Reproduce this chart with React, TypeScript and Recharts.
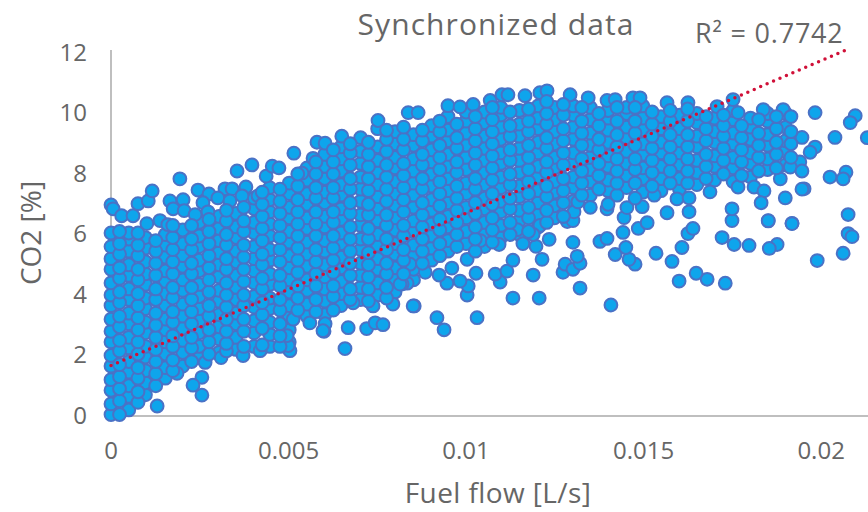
import { ScatterChart, Scatter, XAxis, YAxis } from "recharts";

// fuel flow in mL/s with the CO2 [%] values seen at that flow
type Col = [number, number[]];

const lowFlowA: Col[] = [
  [0,[0.05,0.4,0.85,1.2,1.65,2,2.45,2.8,3.2,3.65,4,4.4,4.85,5.2,5.6,6.05]],
  [0.5,[0.2,0.65,1,1.45,1.8,2.25,2.6,3.05,3.4,3.85,4.2,4.65,5,5.45,5.85,6.05]],
  [0.97,[0.7,1.1,1.5,1.95,2.3,2.75,3.1,3.55,3.9,4.35,4.7,5.1,5.55,5.9]],
  [1.53,[1.25,1.6,2.05,2.45,2.85,3.2,3.65,4.05,4.45,4.8,5.25,5.65,6]],
  [2.02,[1.65,2.1,2.5,2.9,3.3,3.7,4.15,4.5,4.95,5.3,5.7,6.15]],
  [2.48,[1.95,2.3,2.75,3.15,3.55,3.95,4.35,4.8,5.15,5.6,5.95,6.4]],
  [3.04,[2.1,2.55,2.95,3.35,3.8,4.15,4.6,5,5.4,5.8,6.2,6.6]],
  [3.52,[2.2,2.6,3.05,3.4,3.85,4.25,4.65,5.1,5.45,5.9,6.25,6.7]],
  [4.03,[2.3,2.75,3.15,3.6,3.95,4.4,4.8,5.2,5.6,6.05,6.4,6.85,7.2]],
  [4.47,[2.3,2.7,3.1,3.55,3.9,4.35,4.7,5.15,5.5,5.95,6.35,6.75,7.15,7.55]],
  [5.02,[2.45,2.85,3.3,3.65,4.1,4.5,4.9,5.3,5.75,6.1,6.55,6.9,7.35,7.7]],
  [5.52,[3.3,3.7,4.15,4.5,4.95,5.35,5.75,6.2,6.55,7,7.35,7.8,8.2]],
];

const lowFlowB: Col[] = [
  [0.24,[0.05,0.5,0.9,1.3,1.7,2.15,2.5,2.95,3.3,3.75,4.1,4.55,4.9,5.35,5.7,6.1]],
  [0.76,[0.45,0.8,1.25,1.6,2.05,2.45,2.85,3.25,3.65,4.05,4.5,4.85,5.3,5.65,6.05]],
  [1.26,[1,1.4,1.8,2.2,2.6,3,3.4,3.85,4.2,4.65,5.05,5.45,5.8]],
  [1.74,[1.5,1.85,2.3,2.65,3.1,3.45,3.9,4.25,4.7,5.1,5.5,5.9,6.3]],
  [2.27,[1.8,2.25,2.6,3.05,3.45,3.85,4.25,4.7,5.05,5.5,5.85,6.3]],
  [2.76,[2.05,2.45,2.85,3.3,3.65,4.1,4.5,4.9,5.3,5.7,6.1,6.5]],
  [3.25,[2.15,2.4,2.8,3.2,3.6,4,4.4,4.85,5.2,5.65,6,6.45,6.8]],
  [3.74,[2.3,2.8,3.2,3.65,4,4.45,4.85,5.25,5.65,6.1,6.45,6.9]],
  [4.26,[2.35,2.9,3.35,3.75,4.2,4.55,5,5.35,5.8,6.2,6.6,7,7.4]],
  [4.76,[2.3,2.65,3.05,3.5,3.85,4.3,4.65,5.1,5.5,5.9,6.3,6.7,7.1,7.5]],
  [5.26,[3.5,3.9,4.3,4.75,5.15,5.55,5.95,6.35,6.75,7.15,7.6,8]],
  [5.77,[3.45,3.85,4.3,4.7,5.1,5.5,5.95,6.35,6.75,7.2,7.55,8,8.4]],
];

const midFlowA: Col[] = [
  [6.02,[3.35,3.8,4.2,4.6,5,5.45,5.8,6.25,6.6,7.05,7.4,7.85,8.25,8.65]],
  [6.48,[3.65,4.05,4.45,4.9,5.25,5.7,6.05,6.5,6.85,7.3,7.65,8.1,8.5,8.9]],
  [7.03,[3.85,4.25,4.65,5.05,5.5,5.85,6.3,6.65,7.1,7.5,7.9,8.35,8.75,9.2]],
  [7.51,[4,4.4,4.85,5.2,5.65,6,6.45,6.85,7.25,7.65,8.05,8.45,8.9,9.5]],
  [8,[4.1,4.55,4.9,5.35,5.7,6.15,6.55,6.95,7.35,7.75,8.2,8.55,9,9.4]],
  [8.52,[4.5,4.85,5.3,5.65,6.1,6.45,6.9,7.3,7.7,8.1,8.5,8.95,9.3]],
  [9.03,[5.15,5.55,5.95,6.35,6.8,7.15,7.6,8,8.4,8.8,9.25,9.6]],
  [9.49,[5.45,5.8,6.25,6.6,7.05,7.45,7.85,8.25,8.65,9.1,9.45,9.9]],
  [10,[5.7,6.1,6.55,6.9,7.35,7.7,8.15,8.55,8.95,9.35,9.75,10.05]],
  [10.52,[5.6,6,6.4,6.85,7.2,7.65,8.05,8.45,8.85,9.25,9.7,10.05]],
  [10.98,[5.9,6.3,6.75,7.1,7.55,7.9,8.35,8.7,9.15,9.55,9.95,10.2]],
  [11.5,[6,6.45,6.8,7.25,7.6,8.05,8.45,8.85,9.25,9.65,10.1]],
  [12.03,[6.25,6.65,7.05,7.45,7.9,8.25,8.7,9.05,9.5,9.85,10.25]],
  [12.49,[6.55,6.95,7.4,7.75,8.2,8.55,9,9.4,9.8,10.2]],
];

const midFlowB: Col[] = [
  [6.26,[3.5,3.95,4.3,4.75,5.15,5.55,5.95,6.4,6.75,7.2,7.55,8,8.4,8.8]],
  [6.74,[3.85,4.2,4.65,5.05,5.45,5.85,6.25,6.7,7.05,7.5,7.85,8.3,8.7,9]],
  [7.25,[3.8,4.2,4.6,5,5.4,5.85,6.2,6.65,7,7.45,7.85,8.25,8.65,9.05]],
  [7.76,[3.9,4.25,4.7,5.05,5.5,5.85,6.3,6.65,7.1,7.5,7.9,8.3,8.75,9.15,9.45]],
  [8.24,[4.7,5.15,5.5,5.95,6.3,6.75,7.15,7.55,7.95,8.35,8.8,9.15,9.55]],
  [8.77,[5.05,5.45,5.85,6.25,6.65,7.05,7.5,7.85,8.3,8.65,9.1,9.45]],
  [9.26,[5.3,5.7,6.15,6.5,6.95,7.35,7.75,8.15,8.55,8.95,9.4,9.75]],
  [9.74,[5.6,6,6.4,6.8,7.2,7.6,8.05,8.4,8.85,9.2,9.65]],
  [10.26,[5.45,5.85,6.25,6.7,7.05,7.5,7.85,8.3,8.7,9.1,9.5,9.9]],
  [10.74,[5.75,6.15,6.55,7,7.35,7.8,8.2,8.6,9,9.4,9.8,10.2]],
  [11.24,[6,6.4,6.85,7.2,7.65,8,8.45,8.8,9.25,9.6,10.05]],
  [11.76,[6.1,6.55,6.9,7.35,7.75,8.15,8.55,8.95,9.4,9.75,10.15]],
  [12.27,[6.4,6.8,7.25,7.6,8.05,8.4,8.85,9.2,9.65,10,10.4]],
  [12.74,[6.6,7.05,7.45,7.85,8.3,8.7,9.1,9.5,9.95,10.3]],
];

const highFlowA: Col[] = [
  [13.02,[7.1,7.55,7.9,8.35,8.7,9.15,9.55,9.95,10.25]],
  [13.5,[7.3,7.75,8.15,8.55,8.95,9.35,9.8,10.2]],
  [14,[7.45,7.8,8.25,8.6,9.05,9.45,9.85,10.1]],
  [14.52,[7.55,7.95,8.35,8.75,9.2,9.55,10,10.2]],
  [14.98,[7.4,7.85,8.2,8.65,9,9.45,9.85,10.25]],
  [15.49,[7.45,7.85,8.25,8.7,9.05,9.5,9.9]],
  [16.01,[7.5,7.85,8.3,8.7,9.1,9.5,9.95]],
  [16.5,[7.65,8.05,8.45,8.9,9.25,9.7,10]],
  [17,[7.8,8.25,8.6,9.05,9.4,9.85]],
  [17.52,[7.75,8.2,8.55,9,9.35,9.8,10.1]],
  [18.01,[7.9,8.35,8.7,9.15,9.55,9.85]],
  [18.49,[8.15,8.5,8.95,9.3,9.75,10]],
  [19,[8.3,8.75,9.1,9.55,10]],
];

const highFlowB: Col[] = [
  [13.26,[7.3,7.7,8.1,8.5,8.95,9.35,9.75,10.2]],
  [13.74,[7.5,7.95,8.35,8.8,9.15,9.6,10]],
  [14.25,[7.3,7.7,8.1,8.5,8.9,9.3,9.75,10.2]],
  [14.76,[7.7,8.15,8.5,8.95,9.35,9.75,10.2]],
  [15.24,[7.6,8.05,8.45,8.85,9.25,9.65,10.05]],
  [15.75,[7.7,8.1,8.5,8.9,9.3,9.75,10.1]],
  [16.24,[7.7,8.1,8.5,8.9,9.3,9.75,10.15]],
  [16.76,[7.85,8.25,8.65,9.1,9.5,9.9]],
  [17.25,[8,8.45,8.85,9.25,9.6,9.95]],
  [17.76,[7.95,8.4,8.8,9.2,9.6]],
  [18.24,[8.1,8.55,8.95,9.35,9.8]],
  [18.74,[8.2,8.65,9.05,9.5,9.9]],
  [19.15,[8.55,9,9.4,9.9]],
];

// loose points around the cloud
const scatteredTop: [number, number][] = [
  [19.83,10.03],[20.96,9.93],[20.82,9.7],[20.39,9.21],[21.3,9.2],[19.46,9.21],[19.46,7.5],[19.83,8.89],[19.4,8.4],
  [20.25,7.9],[20.7,8.06],[20.62,7.84],[19.69,8.72],[19.13,8.23],[17.52,10.46],[19.46,8.1],[18.85,7.84],
  [0,6.98],[0.06,6.85],[0.3,6.62],[0.62,6.62],[0.76,7.02],[1.05,7.11],[1.16,7.44],[1.94,7.84],[1.66,7.11],[2.03,7.15],
  [1.75,6.85],[2.06,6.79],[2.45,7.47],[2.76,7.34],[2.59,7.05],[2.37,6.66],[2.73,6.75],[3.21,7.51],[3.41,7.51],[3.8,7.57],
  [3.01,7.21],[3.35,7.11],[3.69,7.28],[3.55,8.1],[3.97,8.3],[4.14,7.28],[4.37,7.93],[4.54,8.26],[4.73,8.2],[5.15,8.69],
  [5.38,8.03],[5.69,8.52],[5.8,9.05],[6.03,9.02],[6.5,9.25],[1.01,6.36],[1.38,6.46],[1.6,6.33],
  [7.52,9.77],[8.37,10.03],[8.65,10.03],[9.49,10.26],[9.83,10.22],[10.2,10.3],[10.68,10.43],[11.01,10.62],[11.18,10.62],
  [11.66,10.59],[12.08,10.69],[12.28,10.75],[12.93,10.62],[13.44,10.52],[13.97,10.43],[14.2,10.46],[14.7,10.52],[14.9,10.52],
  [15.66,10.36],[16.25,10.36],[17.07,10.23],[18.37,10.13],[18.93,10.13],[17.66,10.03],
];

const scatteredLow: [number, number][] = [
  [20.76,6.66],[20.76,6.03],[20.87,5.93],[20.62,5.38],[19.89,5.14],[19.18,6.37],[18.51,6.45],[18.76,5.67],[18.54,5.54],
  [17.97,5.64],[17.55,5.67],[17.21,5.9],[17.49,6.46],[17.49,6.85],[17.3,4.39],[16.79,4.52],[16.48,4.72],[16,4.46],
  [15.8,5.11],[16.08,5.57],[16.25,6.03],[16.39,6.2],[15.35,5.38],[14.76,5.02],[14.59,5.18],[14.2,5.34],[14.5,5.57],
  [14.08,3.67],[14.42,6.07],[14.85,6.2],[13.77,5.77],[13.97,5.87],[13.21,4.23],[12.06,3.9],[11.32,3.9],[10.31,3.25],
  [9.38,2.85],[9.18,3.25],[8.54,3.64],[10.03,4],[11.89,4.66],[10.96,4.43],[10.82,4.69],[11.15,4.79],[11.32,5.15],
  [12.14,5.18],[12.73,4.75],[12.79,5.02],[13.01,4.85],[13.21,5.05],[13.13,5.28],[13.01,5.74],[12.34,5.84],[11.97,5.61],
  [11.6,5.7],[10.93,5.67],[10.4,5.8],[10.28,4.72],[10.06,4.3],[9.83,4.46],[9.46,4.39],[9.24,4.66],[8.85,4.75],
  [8.34,4.39],[8.2,4.36],[8.42,5.02],[9.6,4.89],[10.03,5.18],[12.85,6.43],[13.01,6.46],[13.04,6.75],[13.15,7.08],
  [13.97,6.85],[14.45,6.56],[14.53,6.89],[14.96,6.92],[15.1,6.39],[15.66,6.72],[16.28,6.75],[15.94,7.18],[16.28,7.21],
  [16.87,7.41],[17.66,7.57],[18.11,7.57],[18.39,7.44],[18.31,7.05],[18.99,7.21],[19.52,7.51],[18.51,6.46],[19.18,6.36],
  [13.5,6.9],[14,7],[14.76,7.2],[15.3,7.3],[12.08,6.3],[11.89,6],[11.44,6.16],[12.74,6.6],
  [6.59,2.23],[7.2,2.89],[7.44,3.08],[7.66,3.02],[6,2.8],[6.03,3.05],[5.97,2.82],[5.13,3.2],[5.6,3.08],[6.68,2.92],
  [6.82,3.74],[7.38,3.64],[7.94,3.7],[8.51,3.64],[8.14,4.36],[1.86,1.41],[2.65,1.77],[3.1,1.93],[3.72,2],[4.2,2.16],
  [5.04,2.16],[4.99,2.33],[4.96,2.66],[2.56,1.28],[2.31,1.02],[2.56,0.69],[1.3,0.33],
];

const xTicks = [0, 0.005, 0.01, 0.015, 0.02];
const yTicks = [0, 2, 4, 6, 8, 10, 12];
const trendRows = [{ flow: 0, co2: 1.67 }, { flow: 0.0207, co2: 12.1 }];

const fromCols = (cols: Col[]) =>
  cols.flatMap(([f, ys]) => ys.map((c) => ({ flow: f / 1000, co2: c })));
const fromPairs = (pts: [number, number][]) => pts.map(([f, c]) => ({ flow: f / 1000, co2: c }));

const layers = [
  fromCols(lowFlowA),
  fromCols(midFlowA),
  fromCols(highFlowA),
  fromPairs(scatteredLow),
  fromPairs(scatteredTop),
  fromCols(lowFlowB),
  fromCols(midFlowB),
  fromCols(highFlowB),
];

function Dot(props: any) {
  return <circle cx={props.cx} cy={props.cy} r={6.4} fill="#0ea5ec" stroke="#4a72c6" strokeWidth={2} />;
}

const textColor = "#666666";
const font = "'Open Sans', sans-serif";

export default function App() {
  return (
    <div style={{ position: "absolute", left: 0, top: 0, width: 868, height: 512, background: "#fff", overflow: "hidden" }}>
      <ScatterChart width={868} height={512} margin={{ top: 50, right: 0, bottom: 0, left: 0 }}>
        <XAxis
          type="number"
          dataKey="flow"
          domain={[0, 0.02132]}
          ticks={xTicks}
          height={96}
          interval={0}
          tickLine={false}
          tickMargin={20}
          tick={{ fill: textColor, fontSize: 24, fontFamily: font }}
          axisLine={{ stroke: "#bfbfbf", strokeWidth: 2 }}
        />
        <YAxis
          type="number"
          dataKey="co2"
          domain={[0, 12]}
          ticks={yTicks}
          width={111}
          interval={0}
          tickLine={false}
          tickMargin={18}
          tick={{ fill: textColor, fontSize: 24, fontFamily: font, dy: -1 }}
          axisLine={{ stroke: "#bfbfbf", strokeWidth: 2 }}
        />
        {layers.map((rows, i) => (
          <Scatter key={i} data={rows} shape={Dot} isAnimationActive={false} />
        ))}
        <Scatter
          data={trendRows}
          shape={() => <g />}
          line={{ stroke: "#d01038", strokeWidth: 3.5, strokeDasharray: "0 7", strokeLinecap: "round" }}
          isAnimationActive={false}
        />
        <text x={496} y={35} textAnchor="middle" fill={textColor} fontSize={30} letterSpacing={1.1} fontFamily={font}>Synchronized data</text>
        <text x={695} y={43} fill={textColor} fontSize={27} letterSpacing={0.8} fontFamily={font}>R² = 0.7742</text>
        <text x={498} y={503} textAnchor="middle" fill={textColor} fontSize={28} letterSpacing={0.4} fontFamily={font}>Fuel flow [L/s]</text>
        <text x={41} y={233} textAnchor="middle" transform="rotate(-90 41 233)" fill={textColor} fontSize={28} fontFamily={font}>CO2 [%]</text>
      </ScatterChart>
    </div>
  );
}
